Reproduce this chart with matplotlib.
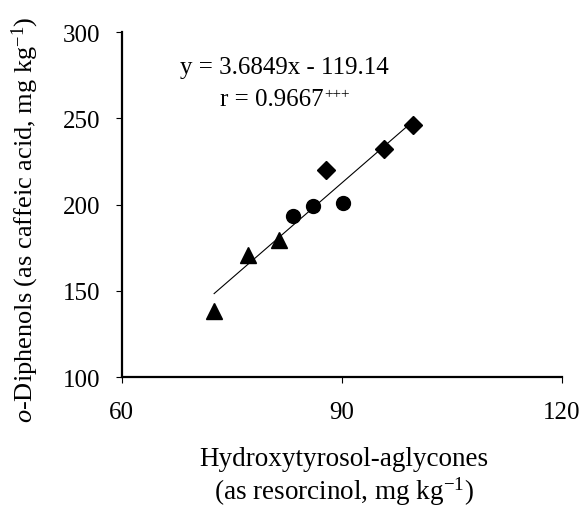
import matplotlib
matplotlib.use("Agg")
import matplotlib.pyplot as plt
import numpy as np

plt.rcParams['font.family'] = ['Liberation Serif', 'DejaVu Serif']
plt.rcParams['mathtext.fontset'] = 'custom'
plt.rcParams['mathtext.rm'] = 'Liberation Serif'
plt.rcParams['mathtext.it'] = 'Liberation Serif:italic'

# Data
tri_x = [72.6, 77.2, 81.5]
tri_y = [138.5, 170.5, 179.5]
circ_x = [83.4, 86.1, 90.2]
circ_y = [193.5, 199.0, 200.8]
dia_x = [87.8, 95.7, 99.7]
dia_y = [220.0, 232.0, 246.0]

slope = 3.6849
intercept = -119.14
fit_x = [72.6, 99.7]

xticks = [60, 90, 120]
yticks = [100, 150, 200, 250, 300]

FS = 18

fig = plt.figure(figsize=(5.83, 5.10), dpi=100)
ax = fig.add_axes([0.2088, 0.2588, 0.7547, 0.6762])

fx = np.array(fit_x)
ax.plot(fx, slope * fx + intercept, color='black', lw=0.8, zorder=2)
ax.plot(tri_x, tri_y, linestyle='none', marker='^', ms=11.5, color='black', zorder=3)
ax.plot(circ_x, circ_y, linestyle='none', marker='o', ms=10, color='black', zorder=3)
ax.plot(dia_x, dia_y, linestyle='none', marker='D', ms=9, color='black', zorder=3)

ax.set_xlim(60, 120)
ax.set_ylim(100, 300)
ax.set_xticks(xticks)
ax.set_yticks(yticks)
ax.spines['top'].set_visible(False)
ax.spines['right'].set_visible(False)
ax.spines['left'].set_linewidth(1.6)
ax.spines['bottom'].set_linewidth(1.6)
ax.tick_params(axis='y', direction='out', length=4.5, width=0.8, labelsize=FS, pad=11)
ax.tick_params(axis='x', direction='out', length=4, width=0.8, labelsize=FS, pad=13)

ax.set_xlabel('Hydroxytyrosol-aglycones\n(as resorcinol, mg kg$^{\\mathrm{-1}}$)', fontsize=19.5,
              linespacing=1.15)
ax.xaxis.set_label_coords(0.505, -0.200)
ax.set_ylabel('$\\mathit{o}$-Diphenols (as caffeic acid, mg kg$^{\\mathrm{-1}}$)', fontsize=19)
ax.yaxis.set_label_coords(-0.183, 0.46)

fig.text(0.487, 0.867, 'y = 3.6849x - 119.14', ha='center', va='center', fontsize=FS)
t = fig.text(0.377, 0.804, 'r = 0.9667', ha='left', va='center', fontsize=FS)
fig.canvas.draw()
bb = t.get_window_extent().transformed(fig.transFigure.inverted())
fig.text(bb.x1 + 0.001, bb.y1 - 0.012, '+++', ha='left', va='center', fontsize=11)

fig.savefig('out.png', dpi=100)
